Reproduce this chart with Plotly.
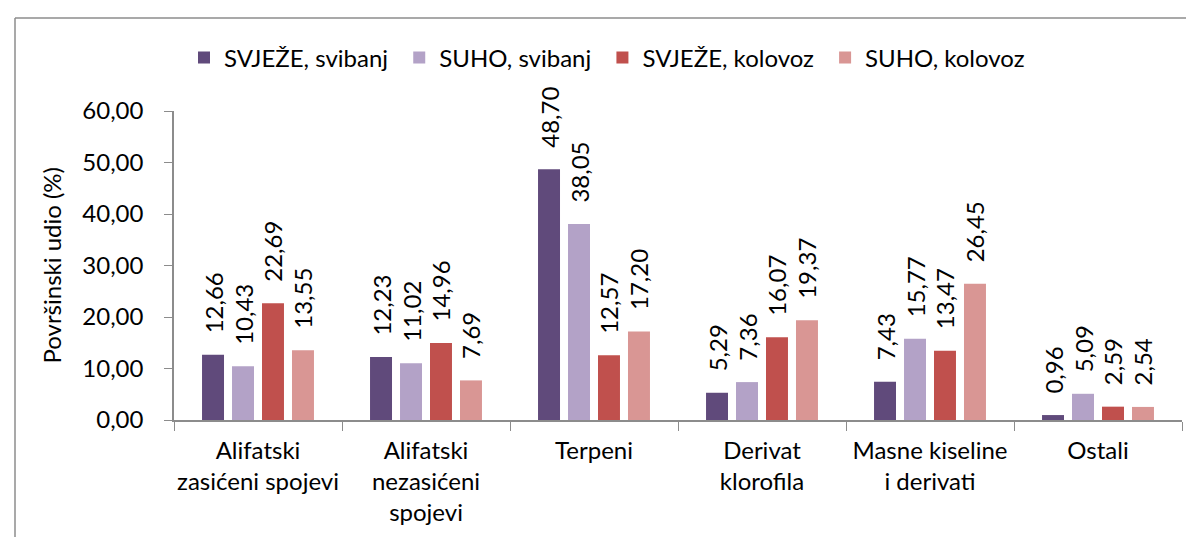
import plotly.graph_objects as go

categories = ["Alifatski<br>zasićeni spojevi", "Alifatski<br>nezasićeni<br>spojevi", "Terpeni",
              "Derivat<br>klorofila", "Masne kiseline<br>i derivati", "Ostali"]
series_names = ["SVJEŽE, svibanj", "SUHO, svibanj", "SVJEŽE, kolovoz", "SUHO, kolovoz"]
svjeze_svibanj = [12.66, 12.23, 48.70, 5.29, 7.43, 0.96]
suho_svibanj = [10.43, 11.02, 38.05, 7.36, 15.77, 5.09]
svjeze_kolovoz = [22.69, 14.96, 12.57, 16.07, 13.47, 2.59]
suho_kolovoz = [13.55, 7.69, 17.20, 19.37, 26.45, 2.54]
colors = ["#604A7B", "#B3A2C7", "#C0504D", "#D99694"]
y_ticks = [0, 10, 20, 30, 40, 50, 60]

FONT = "Lato"
FS = 24
NB = "\u00a0"
fig = go.Figure()
for name, vals, col in zip(series_names, [svjeze_svibanj, suho_svibanj, svjeze_kolovoz, suho_kolovoz], colors):
    fig.add_trace(go.Bar(
        name=name + NB, x=categories, y=vals, marker_color=col, marker_line_width=0,
        texttemplate=NB * 3 + "%{y:.2f}", textposition="outside", textangle=-90,
        constraintext="none", cliponaxis=False,
        textfont=dict(family=FONT, size=FS, color="black"),
    ))

W, H = 1194, 537
L, R, T, B = 166, 20, 103, 125
pw, ph = W - L - R, H - T - B
def px_x(p):
    return (p - L) / pw
def px_y(p):
    return (H - B - p) / ph

fig.update_layout(
    width=W, height=H, separators=",.",
    margin=dict(l=L, r=R, t=T, b=B),
    paper_bgcolor="white", plot_bgcolor="white",
    font=dict(family=FONT, size=FS, color="black"),
    barmode="group", bargap=0.286, bargroupgap=0.267,
    showlegend=True,
    legend=dict(orientation="h", x=px_x(176), y=px_y(50), xanchor="left", yanchor="middle",
                font=dict(size=FS), traceorder="normal", itemwidth=30),
    xaxis=dict(showline=True, linecolor="#8C8C8C", linewidth=1.5, ticks="outside",
               tickson="boundaries", ticklen=9, tickcolor="#8C8C8C", showgrid=False,
               tickfont=dict(size=FS), tickangle=0, ticklabelstandoff=8),
    yaxis=dict(range=[0, 60], tickvals=y_ticks, tickformat=".2f", showline=True,
               linecolor="#8C8C8C", linewidth=1.5, ticks="outside", ticklen=8,
               tickcolor="#8C8C8C", showgrid=False, zeroline=False, tickfont=dict(size=FS),
               ticklabelstandoff=16),
    annotations=[dict(text="Površinski udio (%)", xref="paper", yref="paper", x=px_x(43), y=0.5,
                      textangle=-90, showarrow=False, xanchor="center", yanchor="middle",
                      font=dict(size=FS))],
    shapes=[
        dict(type="line", xref="paper", yref="paper", x0=px_x(7), x1=px_x(1194), y0=px_y(10), y1=px_y(10),
             line=dict(color="#8C8C8C", width=1.5)),
        dict(type="line", xref="paper", yref="paper", x0=px_x(7), x1=px_x(7), y0=px_y(10), y1=px_y(537),
             line=dict(color="#8C8C8C", width=1.5)),
    ],
)
fig.write_html("out.html")
